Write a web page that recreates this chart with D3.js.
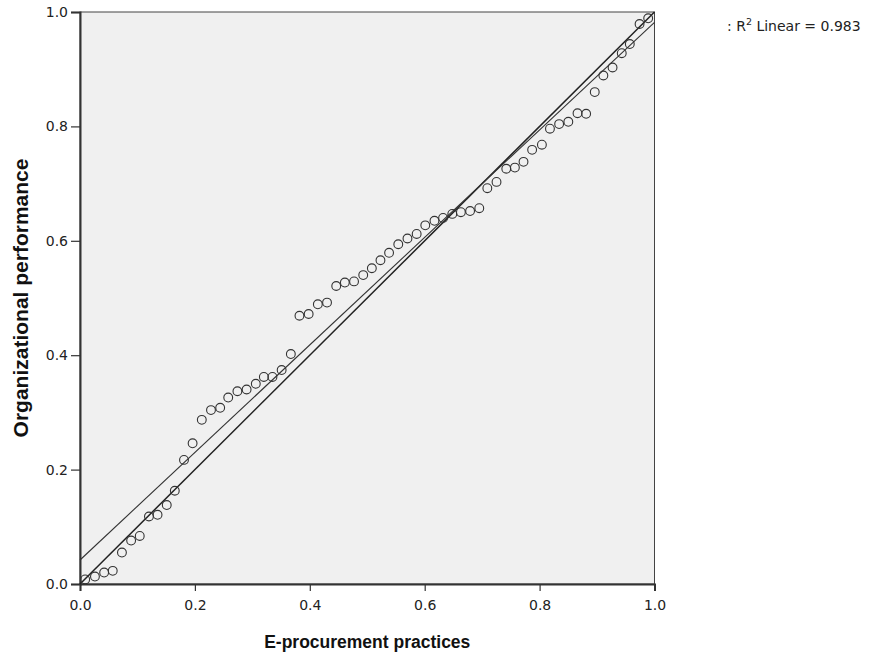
<!DOCTYPE html>
<html>
<head>
<meta charset="utf-8">
<script src="https://cdn.jsdelivr.net/npm/d3@7/dist/d3.min.js"></script>
<style>
  body { margin: 0; background: #fff; }
  svg { display: block; font-family: "Liberation Sans", Arial, sans-serif; }
</style>
</head>
<body>
<svg id="chart" width="869" height="655"></svg>
<script>
const xVals = [0.009, 0.026, 0.042, 0.057, 0.073, 0.089, 0.104, 0.120, 0.135, 0.151,
  0.165, 0.181, 0.196, 0.212, 0.228, 0.244, 0.258, 0.274, 0.290, 0.306,
  0.320, 0.335, 0.351, 0.367, 0.382, 0.398, 0.414, 0.430, 0.446, 0.461,
  0.477, 0.493, 0.508, 0.523, 0.538, 0.554, 0.570, 0.586, 0.601, 0.617,
  0.632, 0.648, 0.663, 0.679, 0.695, 0.709, 0.725, 0.742, 0.757, 0.772,
  0.787, 0.804, 0.818, 0.834, 0.850, 0.866, 0.881, 0.896, 0.911, 0.927,
  0.943, 0.957, 0.974, 0.989]
const yVals = [0.008, 0.013, 0.020, 0.023, 0.055, 0.076, 0.084, 0.118, 0.121, 0.138,
  0.163, 0.217, 0.246, 0.287, 0.304, 0.308, 0.326, 0.337, 0.340, 0.350,
  0.362, 0.362, 0.374, 0.402, 0.469, 0.472, 0.489, 0.492, 0.521, 0.527,
  0.529, 0.540, 0.552, 0.566, 0.579, 0.594, 0.604, 0.612, 0.627, 0.635,
  0.640, 0.647, 0.650, 0.652, 0.657, 0.692, 0.703, 0.726, 0.728, 0.738,
  0.759, 0.768, 0.796, 0.804, 0.808, 0.823, 0.822, 0.860, 0.889, 0.903,
  0.928, 0.944, 0.979, 0.989]
const tickVals = [0.0, 0.2, 0.4, 0.6, 0.8, 1.0]
const fitIntercept = 0.042
const fitSlope = 0.940
const r2Text = "0.983"

const svg = d3.select("#chart")
const plot = { x: 80, y: 12, w: 574.5, h: 572 }

const xScale = d3.scaleLinear().domain([0, 1]).range([plot.x, plot.x + plot.w])
const yScale = d3.scaleLinear().domain([0, 1]).range([plot.y + plot.h, plot.y])

// plot background + frame
svg.append("rect")
  .attr("x", plot.x).attr("y", plot.y)
  .attr("width", plot.w).attr("height", plot.h)
  .attr("fill", "#f0f0f0")
  .attr("stroke", "#444").attr("stroke-width", 1)

// axes
const xAxis = svg.append("g")
  .attr("transform", `translate(0,${plot.y + plot.h})`)
  .call(d3.axisBottom(xScale).tickValues(tickVals).tickFormat(d3.format(".1f")).tickSize(7).tickPadding(9))
const yAxis = svg.append("g")
  .attr("transform", `translate(${plot.x},0)`)
  .call(d3.axisLeft(yScale).tickValues(tickVals).tickFormat(d3.format(".1f")).tickSize(9).tickPadding(3))

;[xAxis, yAxis].forEach(g => {
  g.select(".domain").attr("stroke", "#333").attr("stroke-width", 2)
  g.selectAll(".tick line").attr("stroke", "#333").attr("stroke-width", 1.2)
  g.selectAll(".tick text").attr("fill", "#222")
    .style("font-family", "'DejaVu Sans', sans-serif").style("font-size", "14px")
})

// reference line y = x
svg.append("line")
  .attr("x1", xScale(0)).attr("y1", yScale(0))
  .attr("x2", xScale(1)).attr("y2", yScale(1))
  .attr("stroke", "#222").attr("stroke-width", 1.5)

// fit line
svg.append("line")
  .attr("x1", xScale(0)).attr("y1", yScale(fitIntercept))
  .attr("x2", xScale(1)).attr("y2", yScale(fitIntercept + fitSlope))
  .attr("stroke", "#333").attr("stroke-width", 1.1)

// points
svg.append("g").selectAll("circle")
  .data(d3.zip(xVals, yVals))
  .enter()
  .append("circle")
  .attr("cx", d => xScale(d[0]))
  .attr("cy", d => yScale(d[1]))
  .attr("r", 4.4)
  .attr("fill", "none")
  .attr("stroke", "#333")
  .attr("stroke-width", 1.1)

// axis titles
svg.append("text")
  .attr("x", xScale(0.5)).attr("y", 648)
  .attr("text-anchor", "middle")
  .style("font-size", "17.5px").style("font-weight", "bold")
  .attr("fill", "#111")
  .text("E-procurement practices")

svg.append("text")
  .attr("transform", `translate(28,${yScale(0.5)}) rotate(-90)`)
  .attr("text-anchor", "middle")
  .style("font-size", "21px").style("font-weight", "bold")
  .attr("fill", "#111")
  .text("Organizational performance")

// legend
const leg = svg.append("text")
  .attr("x", 727).attr("y", 31)
  .style("font-family", "'DejaVu Sans', sans-serif")
  .style("font-size", "14px")
  .attr("fill", "#222")
leg.append("tspan").text(": R")
leg.append("tspan").attr("dy", -6).style("font-size", "9.5px").text("2")
leg.append("tspan").attr("dy", 6).text(" Linear = " + r2Text)
</script>
</body>
</html>
